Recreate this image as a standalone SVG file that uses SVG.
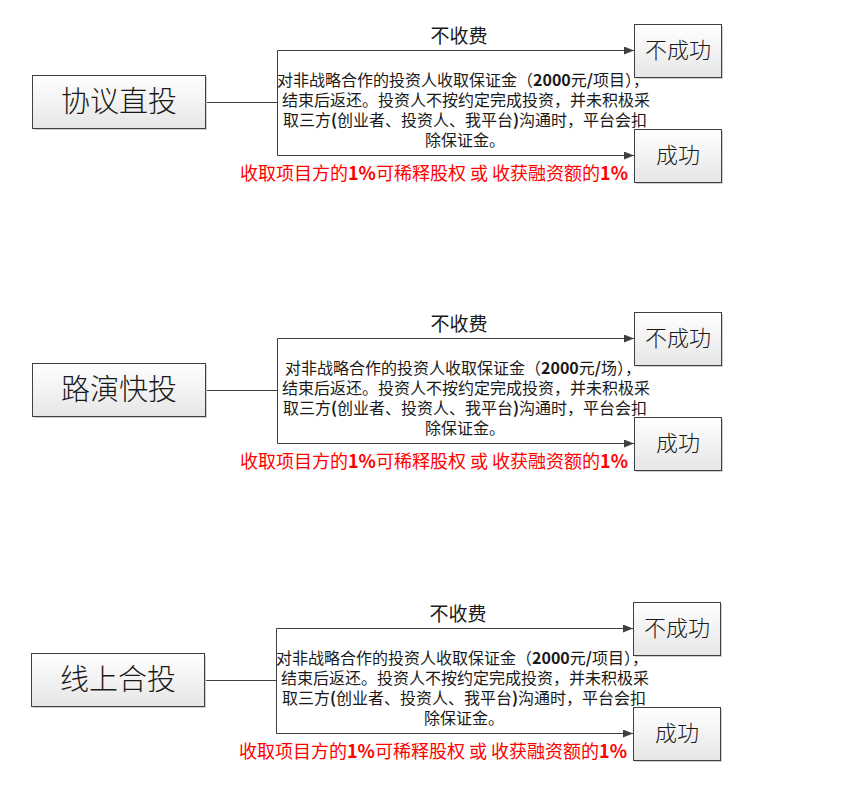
<svg xmlns="http://www.w3.org/2000/svg" width="859" height="800" viewBox="0 0 859 800">
<defs>
<linearGradient id="g" x1="0" y1="0" x2="0" y2="1">
<stop offset="0" stop-color="#ffffff"/>
<stop offset="1" stop-color="#e6e6e6"/>
</linearGradient>
<marker id="ah" markerWidth="10" markerHeight="8" refX="10" refY="4" orient="auto" markerUnits="userSpaceOnUse">
<path d="M0,0 L10,4 L0,8 Z" fill="#404040"/>
</marker>
<style>
.box{fill:url(#g);stroke:#404040;stroke-width:1}
.sh{fill:#cfcfcf}
.ln{fill:none;stroke:#404040;stroke-width:1}
.arr{fill:none;stroke:#404040;stroke-width:1;marker-end:url(#ah)}
text{font-family:"Noto Sans CJK SC","Microsoft YaHei",sans-serif;fill:#1a1a1a}
.big{font-size:29px;font-weight:300;text-anchor:middle}
.mid{font-size:22px;font-weight:300;text-anchor:middle}
.lab{font-size:19px;text-anchor:middle}
.para{font-size:16px;text-anchor:middle}
.red{font-size:18px;fill:#ff0000}
.b{font-weight:bold}
</style>
</defs>

<!-- Block 1 -->
<g id="block1">
<g id="connectors1">
<path class="ln" d="M205.5,102.5 H277.5 M277.5,50.5 V155.5"/>
<path class="arr" d="M277.5,50.5 H634"/>
<path class="arr" d="M277.5,155.5 H634"/>
</g>
<g id="n1-main"><rect class="sh" x="34" y="77" width="173" height="53"/><rect class="box" x="32.5" y="75.5" width="173" height="53"/><text class="big" x="119" y="112">协议直投</text></g>
<g id="n1-fail"><rect class="sh" x="636" y="26" width="87" height="53"/><rect class="box" x="634.5" y="24.5" width="87" height="53"/><text class="mid" x="678" y="58">不成功</text></g>
<g id="n1-ok"><rect class="sh" x="636" y="131" width="87" height="53"/><rect class="box" x="634.5" y="129.5" width="87" height="53"/><text class="mid" x="678" y="163">成功</text></g>
<g id="n1-labels">
<text class="lab" x="459" y="43">不收费</text>
<text class="para" x="463" y="86">对非战略合作的投资人收取保证金（<tspan class="b">2000</tspan>元<tspan class="b">/</tspan>项目），</text>
<text class="para" x="466" y="106">结束后返还。投资人不按约定完成投资，并未积极采</text>
<text class="para" x="465" y="126">取三方<tspan class="b">(</tspan>创业者、投资人、我平台<tspan class="b">)</tspan>沟通时，平台会扣</text>
<text class="para" x="465" y="146">除保证金。</text>
<text class="red" x="240" y="180">收取项目方的<tspan class="b">1%</tspan>可稀释股权 或 收获融资额的<tspan class="b">1%</tspan></text>
</g>
</g>

<!-- Block 2 -->
<g id="block2" transform="translate(0,288)">
<g id="connectors2">
<path class="ln" d="M205.5,102.5 H277.5 M277.5,50.5 V155.5"/>
<path class="arr" d="M277.5,50.5 H634"/>
<path class="arr" d="M277.5,155.5 H634"/>
</g>
<g id="n2-main"><rect class="sh" x="34" y="77" width="173" height="53"/><rect class="box" x="32.5" y="75.5" width="173" height="53"/><text class="big" x="119" y="112">路演快投</text></g>
<g id="n2-fail"><rect class="sh" x="636" y="26" width="87" height="53"/><rect class="box" x="634.5" y="24.5" width="87" height="53"/><text class="mid" x="678" y="58">不成功</text></g>
<g id="n2-ok"><rect class="sh" x="636" y="131" width="87" height="53"/><rect class="box" x="634.5" y="129.5" width="87" height="53"/><text class="mid" x="678" y="163">成功</text></g>
<g id="n2-labels">
<text class="lab" x="459" y="43">不收费</text>
<text class="para" x="463" y="86">对非战略合作的投资人收取保证金（<tspan class="b">2000</tspan>元<tspan class="b">/</tspan>场），</text>
<text class="para" x="466" y="106">结束后返还。投资人不按约定完成投资，并未积极采</text>
<text class="para" x="465" y="126">取三方<tspan class="b">(</tspan>创业者、投资人、我平台<tspan class="b">)</tspan>沟通时，平台会扣</text>
<text class="para" x="465" y="146">除保证金。</text>
<text class="red" x="240" y="180">收取项目方的<tspan class="b">1%</tspan>可稀释股权 或 收获融资额的<tspan class="b">1%</tspan></text>
</g>
</g>

<!-- Block 3 -->
<g id="block3" transform="translate(-1,578)">
<g id="connectors3">
<path class="ln" d="M205.5,102.5 H277.5 M277.5,50.5 V155.5"/>
<path class="arr" d="M277.5,50.5 H634"/>
<path class="arr" d="M277.5,155.5 H634"/>
</g>
<g id="n3-main"><rect class="sh" x="34" y="77" width="173" height="53"/><rect class="box" x="32.5" y="75.5" width="173" height="53"/><text class="big" x="119" y="112">线上合投</text></g>
<g id="n3-fail"><rect class="sh" x="636" y="26" width="87" height="53"/><rect class="box" x="634.5" y="24.5" width="87" height="53"/><text class="mid" x="678" y="58">不成功</text></g>
<g id="n3-ok"><rect class="sh" x="636" y="131" width="87" height="53"/><rect class="box" x="634.5" y="129.5" width="87" height="53"/><text class="mid" x="678" y="163">成功</text></g>
<g id="n3-labels">
<text class="lab" x="459" y="43">不收费</text>
<text class="para" x="463" y="86">对非战略合作的投资人收取保证金（<tspan class="b">2000</tspan>元<tspan class="b">/</tspan>项目），</text>
<text class="para" x="466" y="106">结束后返还。投资人不按约定完成投资，并未积极采</text>
<text class="para" x="465" y="126">取三方<tspan class="b">(</tspan>创业者、投资人、我平台<tspan class="b">)</tspan>沟通时，平台会扣</text>
<text class="para" x="465" y="146">除保证金。</text>
<text class="red" x="240" y="180">收取项目方的<tspan class="b">1%</tspan>可稀释股权 或 收获融资额的<tspan class="b">1%</tspan></text>
</g>
</g>
</svg>
